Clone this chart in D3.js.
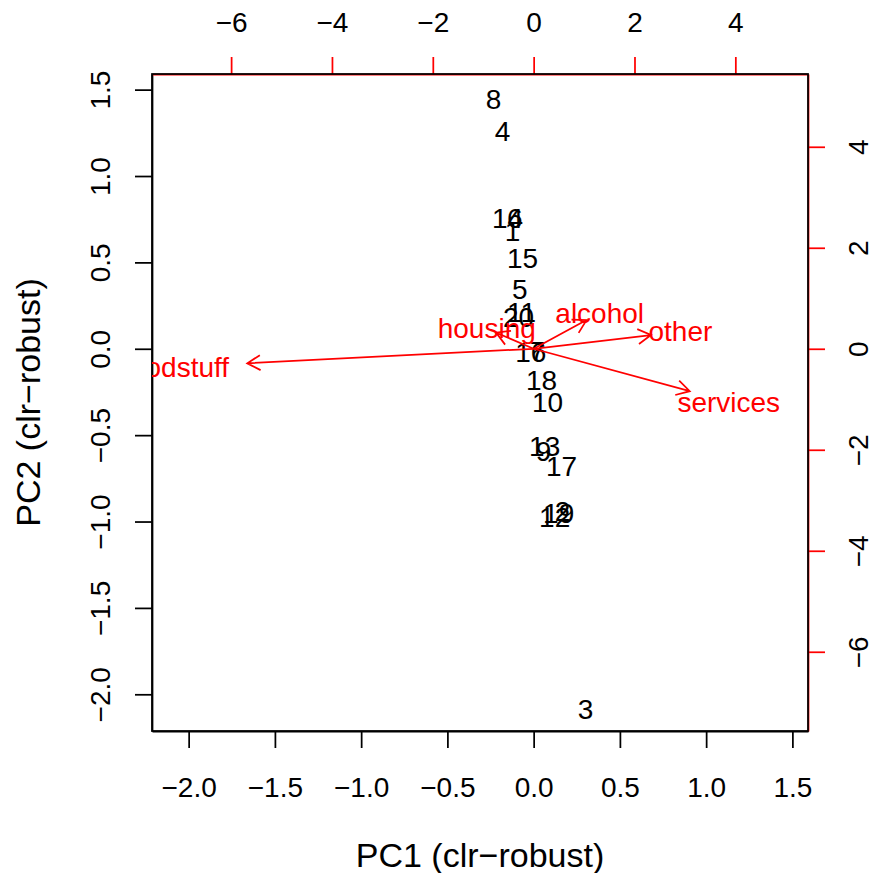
<!DOCTYPE html>
<html>
<head>
<meta charset="utf-8">
<script src="https://cdn.jsdelivr.net/npm/d3@7"></script>
<style>
  body { margin: 0; background: #fff; }
  text { font-family: "Liberation Sans", Arial, sans-serif; }
</style>
</head>
<body>
<div id="chart"></div>
<script>
  // observation scores (PC1, PC2)
  const obsLabels = ["8", "4", "14", "6", "1", "15", "5", "11", "20", "16", "7",
    "18", "10", "13", "9", "17", "12", "2", "19", "3"];
  const pc1 = [-0.232, -0.180, -0.151, -0.110, -0.122, -0.064, -0.081, -0.070, -0.087, -0.017, 0.023,
    0.046, 0.081, 0.064, 0.058, 0.162, 0.122, 0.168, 0.145, 0.301];
  const pc2 = [1.443, 1.257, 0.753, 0.753, 0.678, 0.527, 0.342, 0.209, 0.180, -0.017, -0.012,
    -0.180, -0.307, -0.562, -0.591, -0.678, -0.973, -0.939, -0.950, -2.086];

  // variable loadings (secondary axes)
  const varLabels = ["housing", "foodstuff", "alcohol", "other", "services"];
  const load1 = [-0.93, -7.10, 1.31, 2.91, 3.87];
  const load2 = [0.40, -0.36, 0.71, 0.34, -1.05];

  const scoreTicks = [-2.0, -1.5, -1.0, -0.5, 0.0, 0.5, 1.0, 1.5];
  const loadTicks = [-6, -4, -2, 0, 2, 4];

  const W = 873, H = 873;
  const margin = { top: 74, right: 65, bottom: 142, left: 152 };
  const lim = [-2.2125, 1.5905];
  const ratio = 3.421; // loading units per score unit

  const svg = d3.select("#chart").append("svg")
    .attr("width", W).attr("height", H);
  svg.append("rect").attr("width", W).attr("height", H).attr("fill", "#fff");

  const x = d3.scaleLinear().domain(lim).range([margin.left, W - margin.right]);
  const y = d3.scaleLinear().domain(lim).range([H - margin.bottom, margin.top]);
  const x2 = d3.scaleLinear().domain(lim.map((d) => d * ratio)).range(x.range());
  const y2 = d3.scaleLinear().domain(lim.map((d) => d * ratio)).range(y.range());

  const lw = 1.75;
  const fmt1 = d3.format(".1f");
  const fmt0 = d3.format("d");

  // axes
  function styleAxis(g, col) {
    g.select(".domain").attr("stroke", col).attr("stroke-width", lw);
    g.selectAll(".tick line").attr("stroke", col).attr("stroke-width", lw);
    g.selectAll(".tick text").attr("fill", "#000").attr("font-size", 28);
  }

  const gB = svg.append("g")
    .attr("transform", `translate(0,${H - margin.bottom})`)
    .call(d3.axisBottom(x).tickValues(scoreTicks).tickFormat(fmt1).tickSize(17).tickSizeOuter(0));
  styleAxis(gB, "#000");
  gB.selectAll(".tick text").attr("y", 56).attr("dy", "0.35em");

  const gL = svg.append("g")
    .attr("transform", `translate(${margin.left},0)`)
    .call(d3.axisLeft(y).tickValues(scoreTicks).tickFormat(fmt1).tickSize(17).tickSizeOuter(0));
  styleAxis(gL, "#000");
  gL.selectAll(".tick text")
    .attr("x", null).attr("dy", "0.35em")
    .attr("text-anchor", "middle")
    .attr("transform", "translate(-52,0) rotate(-90)");

  const gT = svg.append("g")
    .attr("transform", `translate(0,${margin.top})`)
    .call(d3.axisTop(x2).tickValues(loadTicks).tickFormat(fmt0).tickSize(17).tickSizeOuter(0));
  styleAxis(gT, "#ff0000");
  gT.selectAll(".tick text").attr("y", -52).attr("dy", "0.35em");

  const gR = svg.append("g")
    .attr("transform", `translate(${W - margin.right},0)`)
    .call(d3.axisRight(y2).tickValues(loadTicks).tickFormat(fmt0).tickSize(17).tickSizeOuter(0));
  styleAxis(gR, "#ff0000");
  gR.selectAll(".tick text")
    .attr("x", null).attr("dy", "0.35em")
    .attr("text-anchor", "middle")
    .attr("transform", "translate(50,0) rotate(-90)");

  // box
  svg.append("rect")
    .attr("x", margin.left).attr("y", margin.top)
    .attr("width", W - margin.left - margin.right)
    .attr("height", H - margin.top - margin.bottom)
    .attr("fill", "none").attr("stroke", "#000").attr("stroke-width", lw);

  // titles
  svg.append("text")
    .attr("x", (margin.left + W - margin.right) / 2).attr("y", 855)
    .attr("dy", "0.35em").attr("text-anchor", "middle").attr("font-size", 34)
    .text("PC1 (clr\u2212robust)");
  svg.append("text")
    .attr("transform", `translate(28,${(margin.top + H - margin.bottom) / 2}) rotate(-90)`)
    .attr("dy", "0.35em").attr("text-anchor", "middle").attr("font-size", 34)
    .text("PC2 (clr\u2212robust)");

  // plot region clip
  svg.append("clipPath").attr("id", "clip").append("rect")
    .attr("x", margin.left).attr("y", margin.top)
    .attr("width", W - margin.left - margin.right)
    .attr("height", H - margin.top - margin.bottom);
  const plot = svg.append("g").attr("clip-path", "url(#clip)");

  // observation labels
  plot.selectAll("text.obs")
    .data(obsLabels)
    .join("text")
    .attr("class", "obs")
    .attr("x", (d, i) => x(pc1[i]))
    .attr("y", (d, i) => y(pc2[i]))
    .attr("dy", "0.35em")
    .attr("text-anchor", "middle")
    .attr("font-size", 28)
    .attr("fill", "#000")
    .text((d) => d);

  // variable arrows (drawn to 0.8 of loading, as in biplot)
  const head = 15;
  const ang = Math.PI / 6;
  function arrowPath(i) {
    const x0 = x2(0), y0 = y2(0);
    const x1 = x2(load1[i] * 0.8), y1 = y2(load2[i] * 0.8);
    const a = Math.atan2(y1 - y0, x1 - x0);
    const p = d3.path();
    p.moveTo(x0, y0);
    p.lineTo(x1, y1);
    p.moveTo(x1 - head * Math.cos(a - ang), y1 - head * Math.sin(a - ang));
    p.lineTo(x1, y1);
    p.lineTo(x1 - head * Math.cos(a + ang), y1 - head * Math.sin(a + ang));
    return p.toString();
  }

  plot.selectAll("path.arrow")
    .data(varLabels)
    .join("path")
    .attr("class", "arrow")
    .attr("d", (d, i) => arrowPath(i))
    .attr("fill", "none")
    .attr("stroke", "#ff0000")
    .attr("stroke-width", lw);

  plot.selectAll("text.var")
    .data(varLabels)
    .join("text")
    .attr("class", "var")
    .attr("x", (d, i) => x2(load1[i]))
    .attr("y", (d, i) => y2(load2[i]))
    .attr("dy", "0.35em")
    .attr("text-anchor", "middle")
    .attr("font-size", 28)
    .attr("fill", "#ff0000")
    .text((d) => d);
</script>
</body>
</html>
